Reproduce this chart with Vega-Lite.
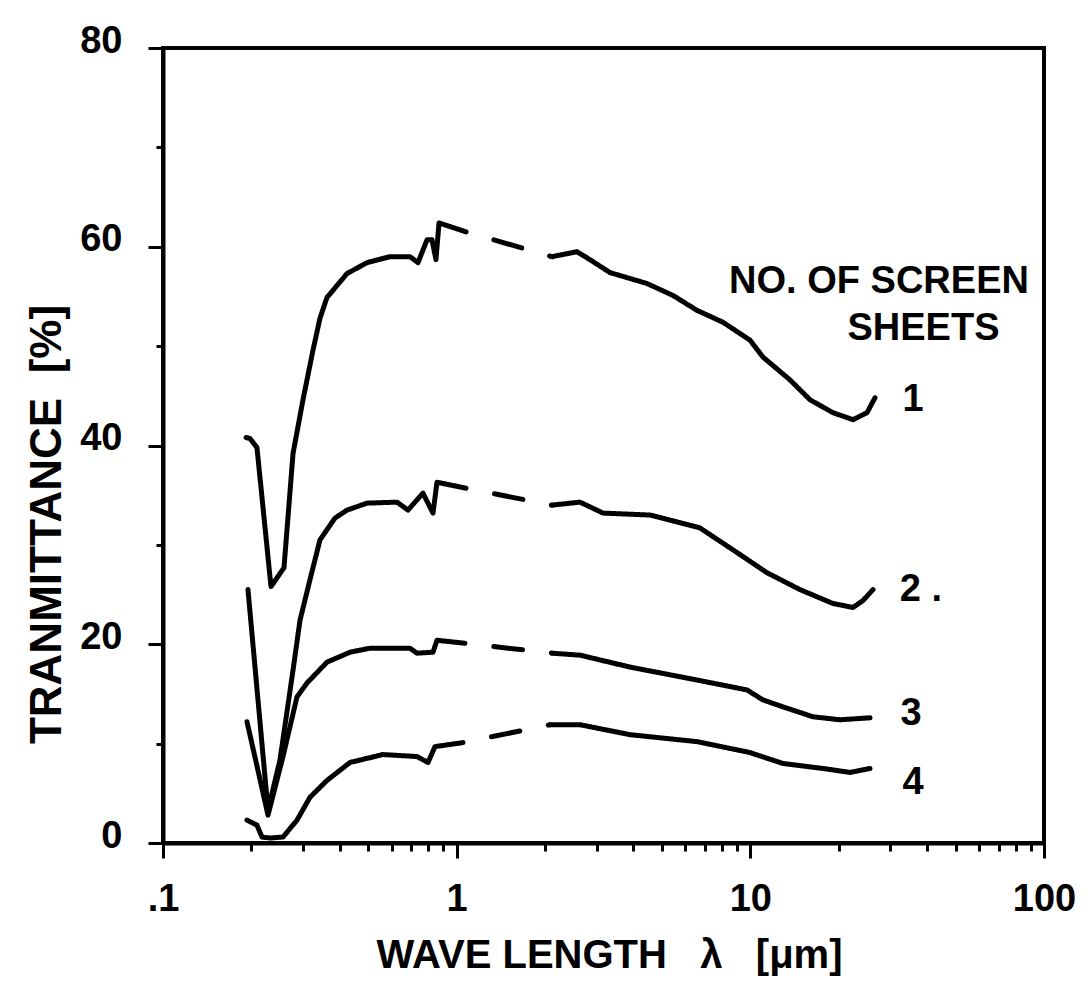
{
  "$schema": "https://vega.github.io/schema/vega-lite/v6.json",
  "width": 881,
  "height": 795,
  "autosize": {"type": "none"},
  "padding": {"left": 163, "top": 48, "right": 47, "bottom": 140},
  "background": "white",
  "config": {"view": {"stroke": "black", "strokeWidth": 4}, "font": "Liberation Sans"},
  "datasets": {
    "curves": [
      {"seg": "1a", "style": "solid", "x": 0.1917, "y": 40.8},
      {"seg": "1a", "style": "solid", "x": 0.1978, "y": 40.7},
      {"seg": "1a", "style": "solid", "x": 0.2089, "y": 39.8},
      {"seg": "1a", "style": "solid", "x": 0.2332, "y": 25.8},
      {"seg": "1a", "style": "solid", "x": 0.2582, "y": 27.7},
      {"seg": "1a", "style": "solid", "x": 0.2772, "y": 39.2},
      {"seg": "1a", "style": "solid", "x": 0.2997, "y": 44.6},
      {"seg": "1a", "style": "solid", "x": 0.3242, "y": 49.6},
      {"seg": "1a", "style": "solid", "x": 0.3424, "y": 52.8},
      {"seg": "1a", "style": "solid", "x": 0.3618, "y": 54.9},
      {"seg": "1a", "style": "solid", "x": 0.4232, "y": 57.3},
      {"seg": "1a", "style": "solid", "x": 0.4951, "y": 58.4},
      {"seg": "1a", "style": "solid", "x": 0.5929, "y": 59.0},
      {"seg": "1a", "style": "solid", "x": 0.6937, "y": 59.0},
      {"seg": "1a", "style": "solid", "x": 0.7385, "y": 58.4},
      {"seg": "1a", "style": "solid", "x": 0.7925, "y": 60.7},
      {"seg": "1a", "style": "solid", "x": 0.8241, "y": 60.7},
      {"seg": "1a", "style": "solid", "x": 0.8503, "y": 58.7},
      {"seg": "1a", "style": "solid", "x": 0.8707, "y": 62.4},
      {"seg": "1a", "style": "solid", "x": 1.076, "y": 61.5},
      {"seg": "1d", "style": "dashed", "x": 1.076, "y": 61.5},
      {"seg": "1d", "style": "dashed", "x": 2.112, "y": 59.0},
      {"seg": "1b", "style": "solid", "x": 2.112, "y": 59.0},
      {"seg": "1b", "style": "solid", "x": 2.569, "y": 59.5},
      {"seg": "1b", "style": "solid", "x": 2.844, "y": 58.7},
      {"seg": "1b", "style": "solid", "x": 3.328, "y": 57.4},
      {"seg": "1b", "style": "solid", "x": 4.447, "y": 56.3},
      {"seg": "1b", "style": "solid", "x": 5.453, "y": 55.1},
      {"seg": "1b", "style": "solid", "x": 6.583, "y": 53.6},
      {"seg": "1b", "style": "solid", "x": 8.071, "y": 52.4},
      {"seg": "1b", "style": "solid", "x": 9.973, "y": 50.6},
      {"seg": "1b", "style": "solid", "x": 11.04, "y": 48.9},
      {"seg": "1b", "style": "solid", "x": 13.65, "y": 46.6},
      {"seg": "1b", "style": "solid", "x": 15.97, "y": 44.6},
      {"seg": "1b", "style": "solid", "x": 19.12, "y": 43.3},
      {"seg": "1b", "style": "solid", "x": 22.37, "y": 42.6},
      {"seg": "1b", "style": "solid", "x": 24.96, "y": 43.3},
      {"seg": "1b", "style": "solid", "x": 26.58, "y": 44.8},

      {"seg": "2a", "style": "solid", "x": 0.1947, "y": 25.5},
      {"seg": "2a", "style": "solid", "x": 0.2106, "y": 14.4},
      {"seg": "2a", "style": "solid", "x": 0.2278, "y": 3.3},
      {"seg": "2a", "style": "solid", "x": 0.2502, "y": 8.35},
      {"seg": "2a", "style": "solid", "x": 0.2772, "y": 17.4},
      {"seg": "2a", "style": "solid", "x": 0.2927, "y": 22.4},
      {"seg": "2a", "style": "solid", "x": 0.3166, "y": 26.5},
      {"seg": "2a", "style": "solid", "x": 0.3424, "y": 30.5},
      {"seg": "2a", "style": "solid", "x": 0.3852, "y": 32.7},
      {"seg": "2a", "style": "solid", "x": 0.4232, "y": 33.5},
      {"seg": "2a", "style": "solid", "x": 0.4951, "y": 34.2},
      {"seg": "2a", "style": "solid", "x": 0.6263, "y": 34.3},
      {"seg": "2a", "style": "solid", "x": 0.6829, "y": 33.5},
      {"seg": "2a", "style": "solid", "x": 0.7678, "y": 35.2},
      {"seg": "2a", "style": "solid", "x": 0.8306, "y": 33.2},
      {"seg": "2a", "style": "solid", "x": 0.857, "y": 36.3},
      {"seg": "2a", "style": "solid", "x": 1.076, "y": 35.7},
      {"seg": "2d", "style": "dashed", "x": 1.076, "y": 35.7},
      {"seg": "2d", "style": "dashed", "x": 2.112, "y": 34.0},
      {"seg": "2b", "style": "solid", "x": 2.112, "y": 34.0},
      {"seg": "2b", "style": "solid", "x": 2.63, "y": 34.3},
      {"seg": "2b", "style": "solid", "x": 3.15, "y": 33.2},
      {"seg": "2b", "style": "solid", "x": 4.553, "y": 33.0},
      {"seg": "2b", "style": "solid", "x": 6.739, "y": 31.7},
      {"seg": "2b", "style": "solid", "x": 8.73, "y": 29.5},
      {"seg": "2b", "style": "solid", "x": 11.39, "y": 27.2},
      {"seg": "2b", "style": "solid", "x": 14.76, "y": 25.5},
      {"seg": "2b", "style": "solid", "x": 19.12, "y": 24.1},
      {"seg": "2b", "style": "solid", "x": 22.37, "y": 23.7},
      {"seg": "2b", "style": "solid", "x": 24.19, "y": 24.4},
      {"seg": "2b", "style": "solid", "x": 26.17, "y": 25.5},

      {"seg": "3a", "style": "solid", "x": 0.1932, "y": 12.2},
      {"seg": "3a", "style": "solid", "x": 0.2106, "y": 7.3},
      {"seg": "3a", "style": "solid", "x": 0.2278, "y": 2.8},
      {"seg": "3a", "style": "solid", "x": 0.2562, "y": 8.7},
      {"seg": "3a", "style": "solid", "x": 0.2859, "y": 14.7},
      {"seg": "3a", "style": "solid", "x": 0.3093, "y": 16.1},
      {"seg": "3a", "style": "solid", "x": 0.3618, "y": 18.2},
      {"seg": "3a", "style": "solid", "x": 0.4333, "y": 19.2},
      {"seg": "3a", "style": "solid", "x": 0.5069, "y": 19.6},
      {"seg": "3a", "style": "solid", "x": 0.6937, "y": 19.6},
      {"seg": "3a", "style": "solid", "x": 0.7327, "y": 19.1},
      {"seg": "3a", "style": "solid", "x": 0.8306, "y": 19.2},
      {"seg": "3a", "style": "solid", "x": 0.857, "y": 20.4},
      {"seg": "3a", "style": "solid", "x": 1.067, "y": 20.1},
      {"seg": "3d", "style": "dashed", "x": 1.067, "y": 20.1},
      {"seg": "3d", "style": "dashed", "x": 2.112, "y": 19.1},
      {"seg": "3b", "style": "solid", "x": 2.112, "y": 19.1},
      {"seg": "3b", "style": "solid", "x": 2.63, "y": 18.9},
      {"seg": "3b", "style": "solid", "x": 3.892, "y": 17.7},
      {"seg": "3b", "style": "solid", "x": 6.583, "y": 16.4},
      {"seg": "3b", "style": "solid", "x": 9.741, "y": 15.4},
      {"seg": "3b", "style": "solid", "x": 11.04, "y": 14.4},
      {"seg": "3b", "style": "solid", "x": 12.92, "y": 13.7},
      {"seg": "3b", "style": "solid", "x": 16.35, "y": 12.7},
      {"seg": "3b", "style": "solid", "x": 20.2, "y": 12.4},
      {"seg": "3b", "style": "solid", "x": 25.56, "y": 12.6},

      {"seg": "4a", "style": "solid", "x": 0.1932, "y": 2.3},
      {"seg": "4a", "style": "solid", "x": 0.2089, "y": 1.8},
      {"seg": "4a", "style": "solid", "x": 0.2173, "y": 0.6},
      {"seg": "4a", "style": "solid", "x": 0.2314, "y": 0.5},
      {"seg": "4a", "style": "solid", "x": 0.2562, "y": 0.6},
      {"seg": "4a", "style": "solid", "x": 0.2859, "y": 2.3},
      {"seg": "4a", "style": "solid", "x": 0.3166, "y": 4.6},
      {"seg": "4a", "style": "solid", "x": 0.3618, "y": 6.3},
      {"seg": "4a", "style": "solid", "x": 0.4333, "y": 8.1},
      {"seg": "4a", "style": "solid", "x": 0.5613, "y": 8.9},
      {"seg": "4a", "style": "solid", "x": 0.7327, "y": 8.7},
      {"seg": "4a", "style": "solid", "x": 0.799, "y": 8.1},
      {"seg": "4a", "style": "solid", "x": 0.8436, "y": 9.7},
      {"seg": "4a", "style": "solid", "x": 1.051, "y": 10.1},
      {"seg": "4d", "style": "dashed", "x": 1.051, "y": 10.1},
      {"seg": "4d", "style": "dashed", "x": 2.079, "y": 11.9},
      {"seg": "4b", "style": "solid", "x": 2.079, "y": 11.9},
      {"seg": "4b", "style": "solid", "x": 2.63, "y": 11.9},
      {"seg": "4b", "style": "solid", "x": 3.892, "y": 10.9},
      {"seg": "4b", "style": "solid", "x": 6.583, "y": 10.2},
      {"seg": "4b", "style": "solid", "x": 9.973, "y": 9.1},
      {"seg": "4b", "style": "solid", "x": 12.92, "y": 8.0},
      {"seg": "4b", "style": "solid", "x": 17.68, "y": 7.5},
      {"seg": "4b", "style": "solid", "x": 21.85, "y": 7.1},
      {"seg": "4b", "style": "solid", "x": 25.56, "y": 7.5}
    ],
    "labels": [
      {"t": "NO. OF SCREEN", "x": 27.43, "y": 56.5},
      {"t": "SHEETS", "x": 38.87, "y": 51.7},
      {"t": "1", "x": 35.81, "y": 44.6},
      {"t": "2 .", "x": 38.12, "y": 25.5},
      {"t": "3", "x": 35.26, "y": 13.0},
      {"t": "4", "x": 35.81, "y": 6.0}
    ]
  },
  "layer": [
    {
      "data": {"name": "curves"},
      "mark": {"type": "line", "stroke": "black", "strokeWidth": 5, "strokeCap": "round", "strokeJoin": "round", "strokeDashOffset": 29},
      "encoding": {
        "x": {
          "field": "x", "type": "quantitative",
          "scale": {"type": "log", "domain": [0.1, 100]},
          "axis": {
            "values": [0.1, 0.2, 0.3, 0.4, 0.5, 0.6, 0.7, 0.8, 0.9, 1, 2, 3, 4, 5, 6, 7, 8, 9, 10, 20, 30, 40, 50, 60, 70, 80, 90, 100],
            "labelExpr": "datum.value == 0.1 ? '.1' : datum.value == 1 ? '1' : datum.value == 10 ? '10' : datum.value == 100 ? '100' : ''",
            "grid": false,
            "domainColor": "black", "domainWidth": 4,
            "tickColor": "black", "tickWidth": 3,
            "tickSize": {"condition": {"test": "datum.value == 0.1 || datum.value == 1 || datum.value == 10 || datum.value == 100", "value": 15}, "value": 8},
            "labelFont": "Liberation Sans", "labelFontWeight": "bold", "labelFontSize": 38, "labelColor": "black",
            "labelPadding": 22, "labelBaseline": "top", "labelOverlap": false, "labelFlush": false,
            "title": "WAVE LENGTH\u00a0\u00a0\u00a0λ\u00a0\u00a0\u00a0[μm]",
            "titleFont": "Liberation Sans", "titleFontWeight": "bold", "titleFontSize": 40, "titleColor": "black",
            "titleX": 446, "titleY": 124, "titleBaseline": "alphabetic", "titleAlign": "center"
          }
        },
        "y": {
          "field": "y", "type": "quantitative",
          "scale": {"domain": [0, 80]},
          "axis": {
            "values": [0, 10, 20, 30, 40, 50, 60, 70, 80],
            "labelExpr": "datum.value % 20 == 0 ? datum.label : ''",
            "grid": false,
            "domainColor": "black", "domainWidth": 4,
            "tickColor": "black", "tickWidth": 3,
            "tickSize": {"condition": {"test": "datum.value % 20 == 0", "value": 15}, "value": 7},
            "labelFont": "Liberation Sans", "labelFontWeight": "bold", "labelFontSize": 38, "labelColor": "black",
            "labelPadding": 26, "labelOffset": -7, "labelOverlap": false, "labelFlush": false,
            "title": "TRANMITTANCE\u00a0\u00a0[%]",
            "titleFont": "Liberation Sans", "titleFontWeight": "bold", "titleFontSize": 44, "titleColor": "black",
            "titleX": -103, "titleY": 476, "titleBaseline": "alphabetic", "titleAlign": "center", "titleAngle": -90
          }
        },
        "detail": {"field": "seg", "type": "nominal"},
        "strokeDash": {"field": "style", "type": "nominal", "scale": {"domain": ["solid", "dashed"], "range": [[1, 0], [29, 29]]}, "legend": null}
      }
    },
    {
      "data": {"name": "labels"},
      "mark": {"type": "text", "font": "Liberation Sans", "fontWeight": "bold", "fontSize": 38, "baseline": "middle", "align": "center", "color": "black"},
      "encoding": {
        "x": {"field": "x", "type": "quantitative"},
        "y": {"field": "y", "type": "quantitative"},
        "text": {"field": "t", "type": "nominal"}
      }
    }
  ]
}
